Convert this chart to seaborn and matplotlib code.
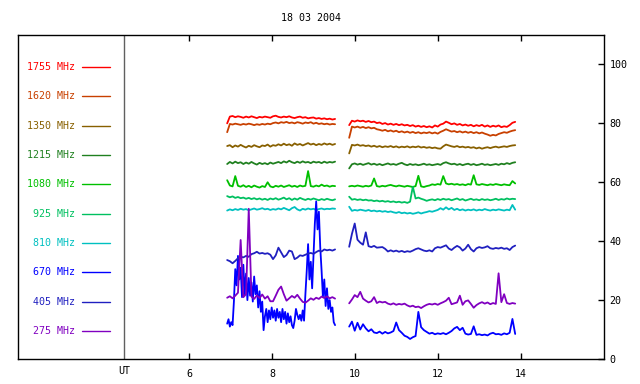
import numpy as np
import matplotlib
matplotlib.use('Agg')
import matplotlib.pyplot as plt
import seaborn as sns

# observing windows (UT hours)
seg1_start, seg1_end = 6.92, 9.52
seg2_start, seg2_end = 9.86, 13.86

freq_labels = ['1755 MHz', '1620 MHz', '1350 MHz', '1215 MHz', '1080 MHz',
               '925 MHz', '810 MHz', '670 MHz', '405 MHz', '275 MHz']
freq_colors = ['#ff0000', '#c84000', '#886000', '#208020', '#00c000',
               '#00c060', '#00c0c0', '#0000ff', '#2020c0', '#8000c0']

f1755_a = [80.0, 82.3, 82.5, 82.1, 82.4, 82.2, 81.9, 82.3, 82.0, 82.4, 82.1, 81.8, 82.2, 82.0,
           82.3, 82.1, 81.9, 82.4, 82.6, 82.2, 82.0, 82.3, 82.1, 82.4, 82.0, 81.8, 82.1, 82.3,
           81.9, 82.1, 81.7, 81.9, 82.0, 81.6, 81.8, 81.5, 81.7, 81.4, 81.6, 81.3, 81.5]
f1755_b = [79.4, 80.9, 80.6, 81.0, 80.7, 80.9, 80.5, 80.8, 80.4, 80.6, 80.1, 80.3, 79.8, 80.1,
           79.6, 79.9, 79.5, 79.8, 79.4, 79.7, 79.3, 79.5, 79.1, 79.4, 78.9, 79.2, 78.8, 79.1,
           78.7, 79.0, 78.6, 79.3, 78.9, 79.6, 79.9, 80.6, 80.2, 79.7, 80.0, 79.5, 79.8, 79.3,
           79.6, 79.2, 79.5, 79.0, 79.4, 79.1, 79.5, 78.9, 79.3, 78.8, 79.2, 78.9, 79.3, 78.7,
           79.0, 78.8, 79.4, 80.2, 80.5]

f1620_a = [77.0, 79.8, 79.6, 79.9, 79.7, 79.5, 79.8, 79.6, 79.9, 79.7, 79.4, 79.7, 79.5, 79.8,
           79.6, 79.9, 79.7, 80.1, 80.3, 80.0, 80.4, 80.2, 80.5, 80.1, 80.3, 80.0, 80.4, 80.2,
           79.9, 80.3, 80.1, 80.4, 79.9, 80.2, 79.8, 80.0, 79.7, 79.9, 79.6, 79.8, 79.7]
f1620_b = [75.1, 78.9, 78.6, 78.9, 78.5, 78.8, 78.4, 78.7, 78.3, 78.5, 78.0, 77.8, 77.5, 77.8,
           77.3, 77.6, 77.2, 77.5, 77.0, 77.3, 76.9, 77.2, 76.8, 77.1, 76.7, 77.0, 76.6, 76.9,
           76.7, 77.0, 76.6, 76.9, 76.5, 77.1, 77.5, 78.0, 77.6, 77.2, 77.4, 77.0, 77.3, 76.9,
           77.2, 76.8, 77.1, 76.7, 77.0, 76.6, 76.9, 76.5, 76.2, 75.8, 76.1, 75.9, 76.4, 76.7,
           77.0, 76.8, 77.2, 77.5, 77.7]

f1350_a = [72.3, 72.6, 71.9, 72.5, 72.1, 72.7, 72.2, 71.8, 72.4, 72.0, 72.6, 72.2, 71.9, 72.5,
           72.3, 72.8, 72.1, 72.6, 72.4, 72.9, 72.5, 73.1, 72.6, 72.9, 72.4, 73.2, 72.7, 73.0,
           72.5, 72.9, 73.3, 72.8, 73.1, 72.6, 73.0, 72.7, 73.2, 72.8, 73.1, 72.7, 73.0]
f1350_b = [69.8, 72.7, 72.5, 72.8, 72.4, 72.6, 72.3, 72.5, 72.1, 72.4, 72.0, 72.3, 71.9, 72.2,
           72.0, 72.3, 71.9, 72.2, 71.8, 72.1, 71.9, 72.2, 71.8, 72.1, 71.9, 72.2, 71.8, 72.0,
           71.7, 71.9, 71.6, 71.8, 71.5, 71.4, 72.2, 72.8, 72.5, 72.2, 72.0, 72.3, 71.9, 72.1,
           71.8, 72.0, 71.7, 71.9, 71.5, 71.8, 71.4, 71.7, 71.9, 71.6, 71.9, 72.1, 71.8, 72.0,
           72.2, 72.0, 72.3, 72.5, 72.6]

f1215_a = [66.2, 66.9, 66.4, 67.0, 66.5, 66.8, 66.2, 66.7, 66.3, 66.9, 66.4, 66.0, 66.6, 66.2,
           66.5, 66.1, 66.7, 66.3, 66.6, 66.9, 66.5, 67.1, 66.7, 67.3, 66.8, 66.5, 67.0, 66.6,
           67.1, 66.7, 66.9, 66.5, 67.0, 66.7, 66.9, 66.5, 67.0, 66.6, 66.9, 66.7, 67.0]
f1215_b = [64.7, 66.1, 66.4, 66.0, 66.3, 65.9, 66.2, 66.5, 66.0, 66.3, 65.9, 66.2, 65.8, 66.1,
           66.4, 66.0, 66.2, 65.9, 66.3, 66.6, 66.1, 65.8, 66.2, 65.9, 66.1, 65.8, 66.0, 66.3,
           65.9, 66.1, 65.8, 66.0, 66.2, 65.9, 66.5, 66.8, 66.4, 66.1, 66.3, 65.9, 66.2, 65.8,
           66.1, 66.3, 65.9, 66.2, 65.8, 66.0, 66.3, 65.9, 66.1, 65.8, 66.0, 66.2, 65.9, 66.3,
           66.1, 66.5, 66.2, 66.6, 66.8]

f1080_a = [60.7, 58.9, 58.6, 62.1, 58.8, 58.5, 59.0, 58.4, 58.8, 58.3, 58.9, 58.5, 58.2, 58.7,
           58.4, 60.0, 58.6, 58.3, 58.8, 58.5, 58.9, 58.4, 58.7, 59.0, 58.5, 58.8, 58.4, 58.9,
           58.6, 58.8, 63.8, 58.7, 58.5, 58.9, 58.6, 59.2, 58.7, 58.9, 58.5, 58.8, 58.7]
f1080_b = [58.6, 58.8, 58.6, 58.9, 58.7, 58.5, 58.8, 58.6, 58.9, 61.3, 58.7, 58.5, 58.8, 58.6,
           58.9, 59.1, 58.8, 58.6, 58.9, 58.7, 58.5, 58.8, 58.6, 58.4, 58.7, 62.2, 58.6, 58.4,
           58.7, 58.9, 59.3, 59.1, 59.4, 59.2, 62.1, 59.6, 59.3, 59.5, 59.2, 59.4, 59.1, 59.3,
           59.0, 59.4, 59.2, 62.4, 59.3, 59.1, 59.4, 59.2, 59.0, 59.3, 59.1, 59.4, 59.2, 59.0,
           59.3, 59.1, 59.0, 60.4, 59.6]

f925_a = [55.3, 54.9, 55.2, 54.7, 55.0, 54.6, 54.8, 54.4, 54.7, 54.3, 54.6, 54.2, 54.5, 54.1,
          54.4, 54.0, 54.5, 54.2, 54.6, 54.1, 54.4, 54.8, 54.2, 54.6, 54.0, 54.5, 54.1, 54.7,
          54.3, 54.0, 54.4, 54.1, 54.5, 54.2, 53.9, 54.3, 54.0, 54.4, 54.1, 53.9, 54.2]
f925_b = [55.1, 54.1, 54.3, 54.0, 54.2, 53.9, 54.1, 53.8, 53.9, 53.6, 53.8, 53.5, 53.7, 53.4,
          53.6, 53.3, 53.5, 53.2, 53.4, 53.1, 53.3, 53.0, 53.4, 58.5, 54.5, 54.8, 54.4, 54.1,
          53.7, 54.0, 54.2, 53.9, 54.3, 54.0, 54.4, 54.1, 54.3, 53.9, 54.2, 54.5, 54.0, 54.3,
          53.8, 54.1, 54.4, 54.0, 54.2, 53.9, 54.3, 54.0, 54.2, 53.9, 54.1, 54.4, 54.0, 54.3,
          54.1, 54.5, 54.2, 54.4, 54.3]

f810_a = [50.4, 50.8, 50.5, 50.9, 50.6, 51.0, 50.7, 50.9, 50.5, 50.8, 51.1, 50.7, 50.9, 51.2,
          50.8, 51.0, 50.6, 50.9, 50.7, 51.1, 50.8, 51.3, 50.9, 50.5, 51.2, 51.6, 50.8, 50.4,
          51.0, 50.7, 51.1, 50.8, 51.0, 50.6, 50.9, 51.1, 50.8, 51.0, 50.9, 51.1, 51.0]
f810_b = [51.7, 50.3, 50.6, 50.4, 50.7, 50.5, 50.3, 50.6, 50.2, 50.4, 50.1, 50.3, 50.0, 50.2,
          49.9, 50.1, 49.8, 49.6, 49.9, 49.5, 49.7, 49.4, 49.6, 49.3, 49.5, 49.8, 49.4, 49.7,
          49.9, 50.2, 50.0, 50.3, 50.6, 51.2, 50.7, 51.5, 50.8, 51.3, 50.6, 51.0, 50.5, 50.8,
          50.4, 50.7, 50.5, 50.8, 50.4, 50.7, 50.5, 50.9, 50.6, 50.4, 50.7, 50.5, 50.8, 50.6,
          50.4, 50.7, 50.5, 52.3, 50.7]

f670_a = [12.0, 13.5, 11.0, 12.5, 11.5, 19.5, 30.5, 25.0, 35.0, 27.0, 31.0, 21.0, 32.0, 22.0,
          29.0, 20.0, 27.5, 21.5, 26.0, 19.5, 28.0, 22.0, 25.0, 17.5, 23.0, 16.0, 19.5, 9.8,
          14.5, 17.0, 12.5, 16.5, 13.5, 17.5, 14.0, 16.5, 13.0, 17.0, 14.0, 16.0, 12.5, 17.0,
          13.5, 16.0, 12.0, 15.5, 12.5, 14.5, 11.5, 10.5, 13.0, 17.0, 15.0, 13.5, 15.0, 13.0,
          16.5, 13.0, 22.0, 30.0, 39.0, 27.0, 33.0, 24.0, 35.0, 46.0, 53.5, 44.0, 50.0, 38.0,
          30.0, 21.0, 27.0, 18.0, 24.0, 17.0, 20.0, 16.0, 17.5, 12.5, 11.5]
f670_b = [11.0, 12.7, 9.6, 12.3, 10.0, 11.8, 10.4, 9.4, 10.1, 9.0, 8.8, 9.3, 8.6, 9.2, 8.7,
          9.0, 9.5, 12.4, 9.8, 8.9, 7.9, 7.5, 6.8, 7.4, 7.8, 16.0, 10.8, 9.8, 9.2, 8.6, 8.9,
          8.4, 8.7, 8.5, 8.8, 8.4, 8.9, 9.5, 10.4, 10.9, 9.8, 10.6, 8.6, 8.3, 8.5, 11.1, 8.2,
          8.4, 8.1, 8.3, 8.0, 8.6, 8.9, 8.4, 8.5, 8.2, 8.7, 8.4, 8.9, 13.6, 8.5]

f405_a = [33.6, 33.2, 32.5, 33.3, 34.2, 34.7, 34.5, 35.0, 34.7, 35.6, 35.9, 36.4, 35.8, 36.0,
          35.7, 35.9, 35.4, 33.9, 35.2, 37.8, 36.2, 34.6, 35.3, 36.8, 36.5, 33.9, 34.4, 35.2,
          35.0, 35.4, 35.8, 36.0, 35.7, 36.3, 36.8, 36.5, 37.2, 36.9, 37.1, 36.8, 37.2]
f405_b = [38.1, 42.5, 46.0, 40.5, 39.5, 38.8, 43.0, 38.3, 38.0, 38.4, 37.8, 37.9, 38.0, 37.4,
          36.5, 36.9, 36.5, 36.8, 36.4, 36.7, 36.3, 36.6, 36.4, 36.8, 37.3, 37.6, 37.2, 36.8,
          36.6, 36.9, 36.5, 37.6, 38.0, 37.8, 38.2, 38.6, 37.5, 37.0, 37.8, 38.4, 37.9, 36.8,
          37.5, 38.8, 37.3, 36.5, 37.6, 38.0, 37.7, 37.9, 38.3, 37.6, 37.4, 37.7, 37.5, 37.8,
          37.4, 37.6, 37.0, 38.0, 38.5]

f275_a = [20.8, 21.3, 20.6, 21.5, 22.5, 40.4, 21.0, 22.0, 51.0, 21.2, 20.4, 21.6, 20.7, 21.9,
          20.5, 21.3, 19.6, 19.6, 21.5, 23.5, 24.6, 22.0, 19.8, 20.6, 21.4, 20.8, 21.8, 20.5,
          19.4, 19.1, 19.8, 20.6, 20.1, 20.8, 20.4, 21.2, 20.7, 21.3, 20.6, 21.0, 20.5]
f275_b = [18.9, 20.2, 21.7, 21.0, 22.8, 20.5, 19.8, 19.2, 19.6, 21.0, 19.0, 19.5, 19.2, 19.4,
          18.8, 18.5, 18.9, 18.4, 18.7, 18.5, 18.8, 18.2, 17.8, 18.1, 17.6, 17.8, 17.3, 17.9,
          18.4, 18.7, 18.5, 18.8, 18.4, 18.9, 19.3, 19.8, 20.8, 18.6, 18.9, 19.2, 21.5, 18.4,
          19.6, 19.9, 18.7, 17.4, 18.3, 18.9, 19.3, 18.8, 19.2, 18.6, 19.0, 18.7, 29.1, 19.3,
          22.0, 19.0, 18.7, 19.0, 18.8]

series = [(f1755_a, f1755_b), (f1620_a, f1620_b), (f1350_a, f1350_b), (f1215_a, f1215_b),
          (f1080_a, f1080_b), (f925_a, f925_b), (f810_a, f810_b), (f670_a, f670_b),
          (f405_a, f405_b), (f275_a, f275_b)]

x_ticks = [6, 8, 10, 12, 14]
y_ticks = [0, 20, 40, 60, 80, 100]

sns.set_style('white')
plt.rcParams['font.family'] = ['DejaVu Sans Mono']
plt.rcParams['font.size'] = 7.2
plt.rcParams['text.color'] = 'black'
plt.rcParams['xtick.color'] = 'black'
plt.rcParams['ytick.color'] = 'black'

fig = plt.figure(figsize=(6.4, 3.84), dpi=100)
ax = fig.add_axes([18 / 640, 25 / 384, 586 / 640, 324 / 384])

for (seg_a, seg_b), color in zip(series, freq_colors):
    for seg, t0, t1 in ((seg_a, seg1_start, seg1_end), (seg_b, seg2_start, seg2_end)):
        t = np.linspace(t0, t1, len(seg))
        sns.lineplot(x=t, y=seg, ax=ax, color=color, lw=1.3,
                     estimator=None, sort=False)

ax.set_xlim(1.88, 16.0)
ax.set_ylim(0, 110)

# legend block on the left
for i, (lab, color) in enumerate(zip(freq_labels, freq_colors)):
    y = 0.901 - i * 0.0905
    ax.text(0.097, y, lab, color=color, ha='right', va='center', transform=ax.transAxes)
    ax.plot([0.109, 0.157], [y, y], color=color, lw=1, transform=ax.transAxes)

ax.axvline(4.43, color='#606060', lw=1)
ax.text(0.181, -0.038, 'UT', ha='center', va='center', transform=ax.transAxes)

ax.set_xticks(x_ticks)
ax.set_xticklabels([str(v) for v in x_ticks])
ax.yaxis.tick_right()
ax.set_yticks(y_ticks)
ax.set_yticklabels([str(v) for v in y_ticks])
ax.tick_params(axis='x', direction='in', length=4, width=1, top=True, bottom=True, pad=7)
ax.tick_params(axis='y', direction='in', length=4, width=1, left=False, right=True, pad=4)
for sp in ax.spines.values():
    sp.set_color('black')
    sp.set_linewidth(1)
ax.set_xlabel('')
ax.set_ylabel('')

fig.text(311 / 640, 1 - 18 / 384, '18 03 2004', ha='center', va='center')

fig.savefig('out.png', dpi=100)
